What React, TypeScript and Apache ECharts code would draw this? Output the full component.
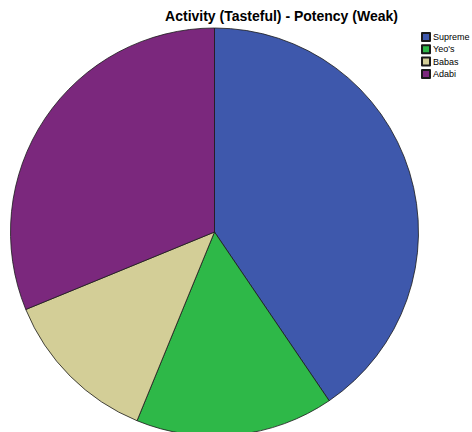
import React, { useEffect, useRef } from "react";
import * as echarts from "echarts";

const titleText = "Activity (Tasteful) - Potency (Weak)";
const categories = ["Supreme", "Yeo's", "Babas", "Adabi"];
const values = [40.5, 15.7, 12.6, 31.2];
const colors = ["#3e58ac", "#2eb848", "#d3ce97", "#7b287d"];

export default function App() {
  const ref = useRef<HTMLDivElement>(null);
  useEffect(() => {
    document.body.style.margin = "0";
    const chart = echarts.init(ref.current!, null, { renderer: "svg" });
    chart.setOption({
      animation: false,
      backgroundColor: "#ffffff",
      title: {
        text: titleText,
        left: 281.5,
        textAlign: "center",
        top: 9,
        padding: 0,
        textStyle: {
          fontFamily: "Liberation Sans, Arial, sans-serif",
          fontSize: 14,
          fontWeight: "bold",
          color: "#000000",
        },
      },
      legend: {
        orient: "vertical",
        left: 421,
        top: 32,
        padding: 0,
        itemWidth: 8,
        itemHeight: 8,
        itemGap: 2.3,
        icon: "rect",
        selectedMode: false,
        textStyle: {
          fontFamily: "Liberation Sans, Arial, sans-serif",
          fontSize: 9,
          color: "#000000",
          padding: [0, 0, 0, -2],
        },
        data: categories,
      },
      series: [
        {
          type: "pie",
          center: [214.5, 232],
          radius: [0, 204],
          startAngle: 90,
          clockwise: true,
          silent: true,
          label: { show: false },
          labelLine: { show: false },
          itemStyle: { borderColor: "#1a1a1a", borderWidth: 0.8 },
          data: categories.map((name, i) => ({
            name,
            value: values[i],
            itemStyle: { color: colors[i] },
          })),
        },
      ],
    });
    return () => chart.dispose();
  }, []);
  return <div ref={ref} style={{ width: 472, height: 432 }} />;
}
